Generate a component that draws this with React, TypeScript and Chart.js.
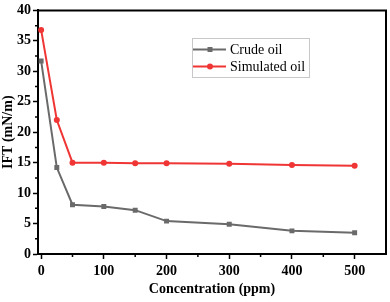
import React, { useEffect, useRef } from "react";
import { Chart, registerables } from "chart.js";

Chart.register(...registerables);

const concentrations = [0, 25, 50, 100, 150, 200, 300, 400, 500];
const crudeOil = [31.7, 14.2, 8.1, 7.8, 7.2, 5.4, 4.9, 3.8, 3.5];
const simulatedOil = [36.8, 22.0, 15.0, 15.0, 14.9, 14.9, 14.8, 14.6, 14.5];
const xTicks = [0, 100, 200, 300, 400, 500];
const yTicks = [0, 5, 10, 15, 20, 25, 30, 35, 40];
const seriesLabels = ["Crude oil", "Simulated oil"];

const GREY = "#6a6a6a";
const RED = "#f03535";
const SERIF = "'Liberation Serif', 'Times New Roman', serif";

const framePlugin = {
  id: "frameAndLegend",
  afterDraw(chart: any) {
    const { ctx, chartArea } = chart;
    const xs = chart.scales.x;
    const ys = chart.scales.y;
    ctx.save();
    ctx.strokeStyle = "#000";
    ctx.lineWidth = 2;
    ctx.beginPath();
    ctx.moveTo(chartArea.left, chartArea.top);
    ctx.lineTo(chartArea.right, chartArea.top);
    ctx.lineTo(chartArea.right, chartArea.bottom);
    ctx.stroke();
    ctx.lineWidth = 1.5;
    ctx.beginPath();
    for (let v = 50; v < 550; v += 100) {
      const px = xs.getPixelForValue(v);
      ctx.moveTo(px, chartArea.bottom);
      ctx.lineTo(px, chartArea.bottom + 3);
    }
    for (let v = 2.5; v < 40; v += 5) {
      const py = ys.getPixelForValue(v);
      ctx.moveTo(chartArea.left, py);
      ctx.lineTo(chartArea.left - 3, py);
    }
    ctx.stroke();
    const bx = 192, by = 38, bw = 117, bh = 39;
    ctx.strokeStyle = "#c8c8c8";
    ctx.lineWidth = 1;
    ctx.strokeRect(bx + 0.5, by + 0.5, bw, bh);
    const rows = [49.5, 66.5];
    chart.data.datasets.forEach((ds: any, i: number) => {
      const y = rows[i];
      ctx.strokeStyle = ds.borderColor;
      ctx.lineWidth = 2;
      ctx.beginPath();
      ctx.moveTo(193, y);
      ctx.lineTo(226, y);
      ctx.stroke();
      ctx.fillStyle = ds.borderColor;
      if (ds.pointStyle === "rect") {
        ctx.fillRect(207.5, y - 2.5, 5, 5);
      } else {
        ctx.beginPath();
        ctx.arc(210, y, 3, 0, Math.PI * 2);
        ctx.fill();
      }
      ctx.fillStyle = "#000";
      ctx.font = `14px ${SERIF}`;
      ctx.textBaseline = "middle";
      ctx.textAlign = "left";
      ctx.fillText(ds.label, 230, y + 0.5);
    });
    ctx.restore();
  },
};

export default function App() {
  const ref = useRef<HTMLCanvasElement>(null);
  useEffect(() => {
    document.body.style.margin = "0";
    const chart = new Chart(ref.current!, {
      type: "line",
      data: {
        datasets: [
          {
            label: seriesLabels[0],
            data: concentrations.map((x, i) => ({ x, y: crudeOil[i] })),
            borderColor: GREY,
            backgroundColor: GREY,
            borderWidth: 2,
            pointStyle: "rect",
            pointRadius: 3.5,
            pointBorderWidth: 0,
          },
          {
            label: seriesLabels[1],
            data: concentrations.map((x, i) => ({ x, y: simulatedOil[i] })),
            borderColor: RED,
            backgroundColor: RED,
            borderWidth: 2,
            pointStyle: "circle",
            pointRadius: 3,
            pointBorderWidth: 0,
          },
        ],
      },
      options: {
        animation: false,
        responsive: false,
        layout: { padding: { top: 6, right: 3, left: 0, bottom: 0 } },
        plugins: { legend: { display: false }, tooltip: { enabled: false } },
        scales: {
          x: {
            type: "linear",
            min: -5,
            max: 550,
            afterBuildTicks: (s: any) => {
              s.ticks = xTicks.map((v) => ({ value: v }));
            },
            afterFit: (s: any) => {
              s.height = 48;
            },
            grid: {
              drawOnChartArea: false,
              drawTicks: true,
              tickLength: 5,
              tickColor: "#000",
              tickWidth: 1.5,
            },
            border: { color: "#000", width: 2 },
            ticks: {
              color: "#000",
              padding: 4,
              maxRotation: 0,
              font: { family: SERIF, size: 14, weight: "bold" },
            },
            title: {
              display: true,
              text: "Concentration (ppm)",
              color: "#000",
              padding: { top: 0, bottom: 4 },
              font: { family: SERIF, size: 14, weight: "bold" },
            },
          },
          y: {
            type: "linear",
            min: 0,
            max: 40,
            afterBuildTicks: (s: any) => {
              s.ticks = yTicks.map((v) => ({ value: v }));
            },
            afterFit: (s: any) => {
              s.width = 38;
            },
            grid: {
              drawOnChartArea: false,
              drawTicks: true,
              tickLength: 5,
              tickColor: "#000",
              tickWidth: 1.5,
            },
            border: { color: "#000", width: 2 },
            ticks: {
              color: "#000",
              padding: 2,
              font: { family: SERIF, size: 14, weight: "bold" },
            },
            title: {
              display: true,
              text: "IFT (mN/m)",
              color: "#000",
              padding: { top: 0, bottom: 0 },
              font: { family: SERIF, size: 14, weight: "bold" },
            },
          },
        },
      },
      plugins: [framePlugin],
    } as any);
    return () => chart.destroy();
  }, []);
  return (
    <div style={{ width: 390, height: 302 }}>
      <canvas ref={ref} width={390} height={302} style={{ display: "block" }} />
    </div>
  );
}
